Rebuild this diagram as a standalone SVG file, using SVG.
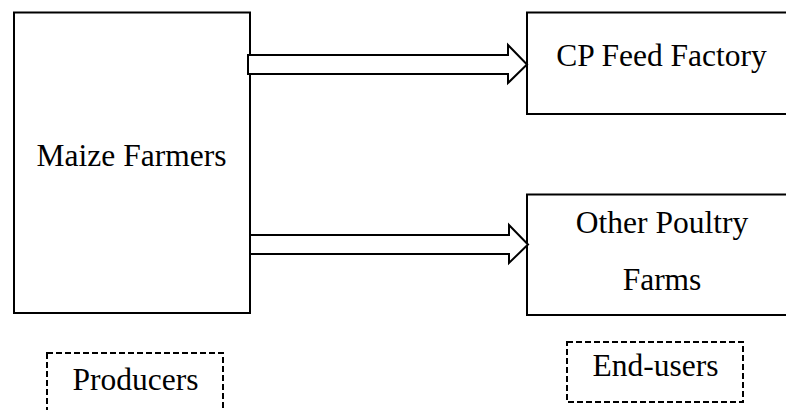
<svg xmlns="http://www.w3.org/2000/svg" width="786" height="410" viewBox="0 0 786 410">
  <style>
    .box { fill: #ffffff; stroke: #000000; stroke-width: 2; }
    .dash { fill: none; stroke: #000000; stroke-width: 2; stroke-dasharray: 6 3; }
    .arrow { fill: #ffffff; stroke: #000000; stroke-width: 2; stroke-linejoin: miter; }
    text { font-family: "Liberation Serif", "Times New Roman", serif; font-size: 31.5px; fill: #000000; text-anchor: middle; }
  </style>
  <rect width="786" height="410" fill="#ffffff"/>

  <g id="maize-farmers">
    <rect class="box" x="14" y="12.5" width="236" height="300.5"/>
    <text x="131.5" y="166">Maize Farmers</text>
  </g>

  <g id="cp-feed-factory">
    <rect class="box" x="527" y="12.5" width="264" height="101.5"/>
    <text x="661.5" y="66">CP Feed Factory</text>
  </g>

  <g id="other-poultry-farms">
    <rect class="box" x="527" y="194.5" width="264" height="120.5"/>
    <text x="662" y="233">Other Poultry</text>
    <text x="662" y="290">Farms</text>
  </g>

  <g id="producers">
    <rect class="dash" x="47" y="353" width="176" height="70"/>
    <text x="135.5" y="390">Producers</text>
  </g>

  <g id="end-users">
    <rect class="dash" x="567" y="342" width="176" height="60"/>
    <text x="655.5" y="376">End-users</text>
  </g>

  <g id="connectors">
    <polygon class="arrow" points="248,55 508,55 508,45 527,64.5 508,83 508,74 248,74"/>
    <polygon class="arrow" points="250,235 509,235 509,225 528,244.5 509,263 509,254 250,254"/>
  </g>
</svg>
